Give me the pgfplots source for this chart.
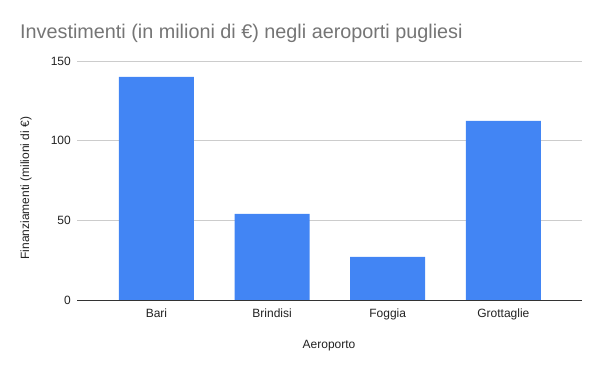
\documentclass[border=0pt]{standalone}
\usepackage{pgfplots}
\pgfplotsset{compat=1.18}
\usepackage{fontspec}
\setmainfont{Liberation Sans}
\definecolor{barblue}{HTML}{4285F4}
\definecolor{gridgray}{HTML}{CCCCCC}
\definecolor{axisdark}{HTML}{333333}
\definecolor{titlegray}{HTML}{757575}
\definecolor{labeltext}{HTML}{222222}
\begin{document}
\begin{tikzpicture}[x=1bp,y=1bp]
\useasboundingbox (0,0) rectangle (600,371);
\begin{axis}[
  at={(77bp,71bp)}, anchor=south west,
  width=505bp, height=239bp, scale only axis,
  xmin=-0.687, xmax=3.68, ymin=0, ymax=150,
  ytick={0,50,100,150},
  xtick={0,1,2,3},
  xticklabels={Bari,Brindisi,Foggia,Grottaglie},
  axis line style={draw=none},
  major tick length=0pt,
  ymajorgrids, grid style={draw=gridgray, line width=0.8bp},
  /pgf/number format/assume math mode=true,
  ticklabel style={font=\fontsize{12bp}{14bp}\selectfont, text=labeltext},
  yticklabel style={inner sep=0pt, anchor=east, xshift=-6bp},
  xticklabel style={inner sep=0pt, anchor=base, yshift=-17bp},
  clip=false,
]
\addplot[ybar, bar width=75bp, fill=barblue, draw=none] coordinates {(0,140) (1,54) (2,27) (3,112.4)};
\draw[axisdark, line width=1bp] (axis cs:-0.687,0) -- (axis cs:3.68,0);
\end{axis}
\node[anchor=base west, inner sep=0pt, font=\fontsize{19.8bp}{23bp}\selectfont, text=titlegray] at (20,333) {Investimenti (in milioni di €) negli aeroporti pugliesi};
\node[anchor=center, rotate=90, inner sep=0pt, font=\fontsize{12bp}{14bp}\selectfont, text=labeltext] at (26,183) {Finanziamenti (milioni di €)};
\node[anchor=base, inner sep=0pt, font=\fontsize{12bp}{14bp}\selectfont, text=labeltext] at (329,23) {Aeroporto};
\end{tikzpicture}
\end{document}
